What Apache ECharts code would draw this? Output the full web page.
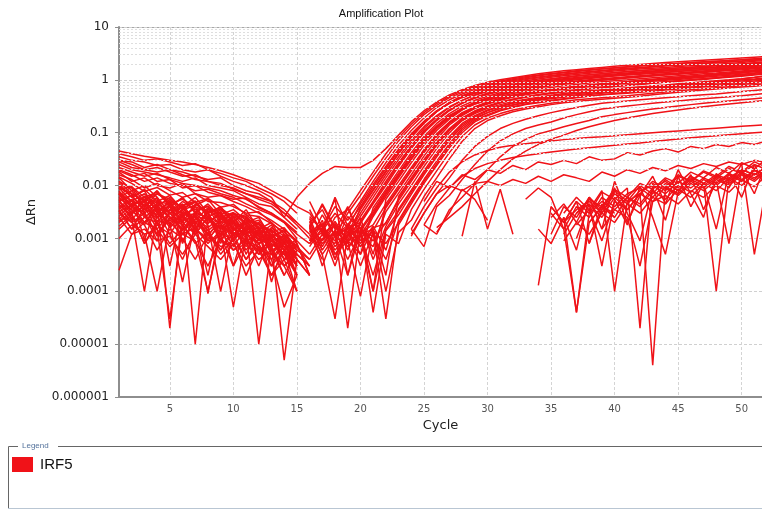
<!DOCTYPE html>
<html>
<head>
<meta charset="utf-8">
<title>Amplification Plot</title>
<script src="https://cdn.jsdelivr.net/npm/echarts@6/dist/echarts.min.js"></script>
<style>
  html, body { margin: 0; padding: 0; background: #fff; }
  #chart { width: 762px; height: 509px; }
</style>
</head>
<body>
<div id="chart"></div>
<script>
// axis ticks
const xTicks = [5, 10, 15, 20, 25, 30, 35, 40, 45, 50]
const yTicks = [0.000001, 0.00001, 0.0001, 0.001, 0.01, 0.1, 1, 10]
const yTickLabels = ['0.000001', '0.00001', '0.0001', '0.001', '0.01', '0.1', '1', '10']

// baseline noise, cycles 1..16 (null = negative, not drawn on log axis)
const baselineStart = 1
const baselineRows = [
    [.045,.04,.036,.033,.03,.028,.025,.022,.019,.016,.013,.011,.008,.006,.004,.003],
    [.04,.035,.03,.032,.028,.024,.026,.02,.017,.014,.012,.009,.007,.005,.003,null],
    [.035,.03,.028,.024,.025,.02,.018,.02,.015,.012,.01,.008,.006,.0025,.006,.011],
    [.03,.028,.022,.025,.02,.018,.015,.013,.014,.01,.008,.007,.005,.0035,.002,null],
    [.028,.022,.02,.018,.02,.016,.013,.012,.01,.009,.007,.006,.005,.003,.0018,.001],
    [.025,.02,.018,.016,.014,.012,.014,.01,.009,.008,.006,.0045,.004,.0025,.0015,null],
    [.022,.018,.015,.017,.013,.011,.01,.009,.008,.0065,.0055,.004,.003,.002,.0012,.0008],
    [.02,.016,.012,.014,.011,.01,.008,.0085,.007,.006,.0045,.0035,.0028,.002,.001,null],
    [.018,.012,.014,.01,.009,.011,.007,.006,.0065,.005,.004,.003,.0022,.0015,.0009,null],
    [.016,.013,.009,.011,.008,.006,.007,.005,.0048,.004,.003,.0032,.002,.0012,.0006,null],
    [.014,.008,.01,.006,.0003,.004,.006,.003,.004,.002,.0035,.0015,.002,.0008,null,null],
    [.012,.009,.004,.007,.005,.002,.0045,.003,.0008,.003,.002,.0025,.001,.0015,.0004,null],
    [.01,.006,.008,.003,.005,.004,.0015,.0035,.003,.001,.0025,.0012,.0018,.0006,.001,null],
    [.009,.007,.0009,.005,.003,.004,.002,.0002,.0028,.002,.0014,.002,.0007,.0012,.0003,null],
    [.008,.004,.006,.0035,.004,.0012,.003,.0025,.0015,.0022,.0005,.0015,.001,.0004,.0008,.0002],
    [.0075,.005,.003,.0045,.00002,.003,.0025,.0012,.002,.0003,.0018,.001,.0012,.0006,null,null],
    [.007,.0045,.005,.002,.004,.003,.00001,.0025,.0015,.002,.001,.0015,.0005,.0009,.0002,null],
    [.006,.0035,.002,.004,.0025,.0015,.003,.0018,.0001,.0015,.0012,.0008,.0011,.0003,.0006,null],
    [.005,.003,.004,.0015,.003,.002,.0012,.0025,.0015,.00005,.0012,.0008,.001,.0005,null,.0004],
    [.0045,.0025,.0001,.003,.002,.0025,.0015,.001,.0018,.0012,.0004,.001,.0007,.0009,.0003,null],
    [.004,.002,.003,.0012,.0025,.0018,.0009,.0001,.0012,.001,.0015,.00001,.0008,.0005,.0007,null],
    [.0035,.0015,.0025,.002,.0008,.0015,.002,.0012,.0006,.0013,.0009,.0007,.0002,.0006,.0003,null],
    [.003,.002,.0012,.0001,.002,.0012,.0016,.0008,.0014,.0006,.001,.0005,.0008,.000005,.0004,.0002],
    [.0025,.0012,.002,.0015,.00003,.0018,.0008,.0013,.0005,.001,.0004,.0008,.0003,.0006,.0002,null],
    [.002,.003,.0008,.0018,.0012,.0004,.0015,.0009,.0011,.0003,.0009,.0006,.0005,.0003,.0001,null],
    [.0015,.0025,.0018,.0006,.0015,.001,.0004,.0012,.0007,.0009,.0002,.0007,.0004,.00005,.0002,null],
    [.001,.0018,.0012,.0015,.0007,.0012,.0009,.0003,.001,.0006,.0008,.0004,.0006,.0002,null,null],
    [.00025,.0012,.0015,.0009,.0011,.0005,.0012,.0007,.0004,.0008,.0003,.0006,.0002,.0004,.0001,null],
    [.006,.008,.004,.006,.003,.005,.0035,.004,.002,.003,.0025,.0015,.0012,.001,.0005,.0003],
    [.009,.005,.007,.004,.006,.0035,.005,.0025,.0035,.002,.0015,.002,.0009,.0007,.0004,null],
    [.012,.007,.005,.008,.004,.006,.003,.0045,.0025,.003,.0018,.0012,.0015,.0008,.0005,null],
    [.005,.0065,.0035,.005,.0045,.0025,.004,.002,.003,.0015,.002,.0011,.0009,.0011,.0004,.0002],
    [.007,.003,.0055,.0025,.0035,.0045,.002,.003,.0012,.0025,.0013,.0016,.0006,.0008,null,null],
    [.004,.0055,.0025,.0038,.0018,.003,.0028,.0014,.0022,.0009,.0017,.0009,.0011,.0004,.0005,null],
    [.011,.006,.0085,.005,.0065,.0035,.0042,.0055,.0028,.0035,.0022,.0019,.0014,.001,.0007,.0004],
    [.0085,.0095,.006,.0075,.0045,.0055,.004,.0032,.0038,.0025,.0028,.0018,.0013,.0016,.0008,null],
    [.0032,.0042,.0028,.0009,.0035,.0022,.0026,.0011,.0024,.0016,.0007,.0014,.00015,.0009,.0004,null],
    [.0055,.0022,.0045,.0032,.0012,.0028,.0015,.0032,.0009,.002,.0011,.0003,.0012,.0007,.0002,null],
    [.03,.025,.02,.022,.018,.015,.016,.012,.011,.0085,.007,.0055,.0045,.003,.002,.0012],
    [.019,.015,.017,.012,.013,.009,.01,.0075,.0065,.0055,.0058,.0038,.003,.0021,.0013,null],
    [.0065,.0095,.005,.007,.0055,.0038,.0048,.003,.0036,.0022,.0026,.0016,.0014,.0009,.0006,null],
    [.0042,.0028,.0055,.0025,.0042,.0018,.0032,.0024,.0011,.0022,.0014,.0005,.0011,.0008,.0003,null],
    [.0026,.0045,.002,.0035,.0016,.0028,.0012,.0026,.0019,.0007,.0016,.0011,.0004,.0009,null,null],
    [.0048,.0035,.0018,.0042,.0026,.0009,.0024,.0016,.0025,.0013,.0008,.0015,.0007,.0002,.0006,null],
    [.0023,.0038,.0032,.0011,.0024,.0034,.0018,.00009,.0017,.0012,.0019,.0006,.0009,.0005,.0002,null],
    [.0058,.0042,.0062,.0033,.0048,.0028,.0036,.0022,.0027,.0018,.0012,.0017,.0005,.0012,.0007,.0003],
    [.0017,.0028,.0008,.0022,.0019,.00015,.0021,.0014,.0006,.0016,.0009,.0013,.0006,.0003,.0005,null],
    [.0095,.0068,.0052,.0078,.0041,.0058,.0032,.0041,.0025,.0031,.0019,.0022,.0011,.0014,.0006,.0004],
    [.0036,.0052,.0041,.0028,.0055,.0031,.0022,.0038,.0016,.0026,.0012,.0019,.0008,.0005,.0009,null],
    [.0072,.0038,.0063,.0047,.0029,.0042,.0051,.0027,.0031,.0014,.0023,.0009,.0016,.0011,.0005,.0003],
    [.0021,.0033,.0049,.0018,.0031,.0014,.0027,.0009,.0021,.0017,.0006,.0013,.0009,.0006,.0001,null],
    [.0145,.011,.0078,.0092,.0066,.0074,.0048,.0057,.0039,.0044,.0028,.0026,.0019,.0013,.0009,.0005],
    [.0033,.0015,.0038,.0024,.0046,.0008,.0029,.0019,.0033,.0011,.0021,.0013,.0003,.001,.0007,null],
    [.0052,.0066,.0032,.0058,.0021,.0044,.0013,.0036,.0023,.0028,.0015,.0008,.0014,.0004,.0008,.0002]
]

// amplified wells, cycles 16..52
const risingStart = 16
const risingRows = [
    [.011,.017,.023,.022,.022,.03,.05,.09,.16,.26,.38,.52,.65,.78,.9,1.0,1.1,1.2,1.3,1.4,1.48,1.56,1.64,1.72,1.8,1.88,1.96,2.04,2.12,2.2,2.28,2.36,2.44,2.52,2.6,2.68,2.75],
    [.002,.0035,.0011,.003,.0065,.015,.033,.07,.13,.22,.33,.46,.58,.7,.81,.91,1.0,1.1,1.19,1.28,1.36,1.44,1.52,1.6,1.68,1.76,1.83,1.9,1.97,2.04,2.11,2.18,2.25,2.32,2.4,2.5,2.6],
    [null,.0015,.004,.0022,.005,.012,.027,.058,.11,.19,.3,.42,.54,.66,.77,.87,.96,1.05,1.13,1.21,1.29,1.37,1.44,1.51,1.58,1.65,1.72,1.79,1.86,1.93,2.0,2.07,2.14,2.21,2.28,2.38,2.5],
    [.0009,.0022,.0004,.0018,.004,.0095,.021,.046,.09,.16,.26,.37,.49,.6,.7,.79,.88,.96,1.04,1.12,1.19,1.26,1.33,1.4,1.47,1.54,1.6,1.66,1.72,1.78,1.84,1.9,1.97,2.04,2.12,2.24,2.35],
    [.0015,.0045,.0016,.0013,.0035,.008,.018,.04,.082,.15,.25,.37,.5,.62,.73,.83,.92,1.01,1.09,1.17,1.25,1.33,1.4,1.47,1.54,1.61,1.68,1.75,1.82,1.89,1.96,2.03,2.1,2.18,2.26,2.35,2.45],
    [.0005,.0012,null,.0011,.003,.007,.016,.035,.072,.13,.21,.31,.41,.51,.6,.68,.76,.84,.91,.98,1.05,1.11,1.17,1.23,1.29,1.35,1.41,1.47,1.53,1.59,1.65,1.71,1.77,1.84,1.92,2.01,2.1],
    [.0018,.0003,.0014,.0008,.0026,.006,.014,.031,.065,.12,.2,.3,.41,.52,.62,.71,.8,.88,.96,1.03,1.1,1.17,1.24,1.31,1.38,1.44,1.5,1.56,1.62,1.68,1.74,1.8,1.87,1.94,2.02,2.11,2.2],
    [.0007,.0016,.0055,.0002,.0022,.005,.012,.027,.057,.11,.18,.27,.36,.45,.53,.61,.68,.75,.82,.88,.94,1.0,1.06,1.12,1.18,1.23,1.28,1.33,1.38,1.44,1.5,1.56,1.62,1.68,1.75,1.82,1.9],
    [null,.0009,.0019,.0006,.0019,.0045,.01,.023,.05,.1,.17,.26,.36,.46,.55,.64,.72,.8,.87,.94,1.0,1.06,1.12,1.18,1.24,1.3,1.36,1.42,1.48,1.54,1.6,1.66,1.72,1.78,1.84,1.92,2.0],
    [.0011,null,.0012,.0015,.0005,.0038,.0085,.019,.042,.085,.15,.23,.32,.41,.49,.57,.64,.71,.77,.83,.89,.95,1.0,1.05,1.1,1.15,1.2,1.25,1.3,1.35,1.41,1.47,1.53,1.59,1.65,1.72,1.8],
    [.0014,.0005,.00003,.0012,.0014,.003,.0072,.016,.036,.075,.13,.21,.29,.37,.45,.52,.59,.65,.71,.77,.83,.88,.93,.98,1.03,1.08,1.13,1.18,1.23,1.28,1.33,1.38,1.44,1.5,1.56,1.63,1.7],
    [.003,.0013,.006,.0017,.0009,.0026,.0062,.014,.031,.066,.12,.19,.27,.35,.42,.49,.55,.61,.67,.72,.77,.82,.87,.92,.96,1.0,1.05,1.1,1.15,1.2,1.25,1.3,1.35,1.41,1.47,1.53,1.6],
    [.0008,.0019,.0005,.0011,.0016,.0001,.0055,.012,.027,.058,.11,.18,.27,.36,.44,.52,.59,.66,.72,.78,.84,.9,.95,1.0,1.05,1.1,1.15,1.2,1.25,1.3,1.36,1.42,1.48,1.54,1.6,1.67,1.75],
    [.0016,.0042,.0015,.0004,.0013,.0018,.0045,.01,.022,.048,.095,.16,.24,.31,.38,.45,.51,.56,.61,.66,.71,.76,.8,.84,.88,.92,.96,1.0,1.05,1.1,1.15,1.2,1.25,1.3,1.36,1.43,1.5],
    [null,.0011,.0021,.0009,.00008,.0014,.0038,.0085,.019,.042,.085,.15,.22,.29,.35,.41,.47,.52,.57,.62,.66,.7,.74,.78,.82,.86,.9,.94,.98,1.02,1.07,1.12,1.17,1.22,1.27,1.33,1.4],
    [.0006,null,.0009,.0038,.0011,.0007,.0032,.0072,.016,.036,.075,.14,.21,.29,.36,.43,.49,.55,.6,.65,.7,.75,.8,.84,.88,.93,.98,1.03,1.08,1.13,1.18,1.23,1.29,1.35,1.41,1.48,1.55],
    [.0012,.0004,null,.0013,.0007,.0015,.0002,.0062,.014,.031,.066,.12,.19,.26,.32,.38,.43,.48,.52,.56,.6,.64,.68,.72,.75,.78,.82,.86,.9,.94,.98,1.02,1.07,1.12,1.17,1.23,1.3],
    [.0019,.0008,.0014,.00002,.0015,.0009,.002,.0052,.012,.027,.058,.11,.17,.23,.29,.34,.39,.43,.47,.51,.55,.59,.62,.65,.68,.71,.74,.77,.8,.84,.88,.92,.96,1.0,1.05,1.12,1.2],
    [.005,.0016,.0006,.0012,.0019,.0004,.0017,.0045,.01,.023,.05,.1,.17,.24,.31,.37,.43,.48,.53,.57,.61,.65,.69,.73,.77,.8,.84,.88,.92,.96,1.0,1.05,1.1,1.15,1.21,1.28,1.35],
    [.0009,.0013,.0003,.0016,.0008,.0017,.0006,.0036,.0082,.019,.042,.085,.15,.21,.27,.32,.37,.41,.45,.49,.53,.56,.59,.62,.65,.68,.71,.74,.77,.8,.83,.87,.91,.95,.99,1.04,1.1],
    [.0013,null,.0017,.0007,.0012,.0001,.0014,.0028,.0068,.016,.035,.072,.13,.19,.24,.29,.33,.37,.41,.44,.47,.5,.53,.56,.59,.62,.65,.68,.71,.74,.77,.8,.83,.86,.9,.95,1.0],
    [.0004,.001,.0012,.0002,.0014,.0011,.0004,.0022,.0055,.013,.029,.062,.12,.18,.24,.29,.34,.38,.42,.46,.49,.52,.55,.58,.61,.64,.67,.7,.73,.76,.79,.83,.87,.91,.95,1.0,1.05],
    [.0017,.0006,null,.0014,.0003,.0013,.00003,.0018,.0045,.011,.024,.052,.1,.16,.21,.26,.3,.34,.37,.4,.43,.46,.49,.52,.55,.58,.61,.64,.67,.7,.73,.76,.79,.82,.86,.9,.95],
    [null,.0014,.0009,.0011,.0016,.00004,.0012,.0008,.0035,.0085,.019,.042,.085,.14,.19,.23,.27,.3,.33,.36,.39,.42,.44,.46,.48,.5,.53,.56,.59,.62,.65,.68,.71,.74,.77,.81,.85],
    [.0011,.0018,.0005,.0009,.0012,.0015,.0001,.0013,.0022,.0062,.014,.032,.068,.12,.17,.21,.25,.28,.31,.34,.37,.39,.41,.43,.45,.47,.49,.52,.55,.58,.61,.64,.67,.7,.73,.76,.8],
    [.0016,.0009,.0025,.0035,.008,.018,.04,.08,.145,.24,.355,.49,.62,.74,.85,.95,1.05,1.14,1.23,1.32,1.4,1.48,1.56,1.63,1.7,1.77,1.84,1.91,1.98,2.05,2.12,2.19,2.26,2.33,2.4,2.47,2.55],
    [.0024,.0007,.0019,.0009,.0038,.0085,.019,.042,.085,.155,.25,.36,.47,.57,.66,.75,.83,.91,.98,1.05,1.12,1.19,1.25,1.31,1.37,1.43,1.49,1.55,1.61,1.67,1.73,1.79,1.85,1.91,1.98,2.08,2.2],
    [.0009,.0028,.0011,.0016,.002,.0048,.011,.025,.054,.105,.175,.27,.37,.47,.56,.65,.73,.8,.87,.93,.99,1.05,1.11,1.17,1.23,1.29,1.35,1.41,1.47,1.53,1.59,1.65,1.71,1.78,1.86,1.95,2.05],
    [.0021,.0006,.0014,.004,.0011,.0028,.0068,.015,.033,.07,.125,.2,.29,.38,.46,.54,.61,.68,.74,.8,.86,.92,.97,1.02,1.07,1.12,1.17,1.22,1.28,1.34,1.4,1.46,1.53,1.6,1.68,1.78,1.9],
    [.0013,.0019,.0007,.0013,.0024,.0005,.0041,.009,.02,.045,.09,.155,.23,.3,.37,.43,.49,.54,.59,.64,.69,.74,.78,.82,.86,.9,.94,.98,1.03,1.08,1.14,1.2,1.27,1.34,1.42,1.53,1.65],
    [null,.0012,.0018,.0009,.0005,.0016,.0019,.0057,.013,.029,.062,.115,.18,.25,.31,.37,.42,.47,.51,.55,.59,.63,.67,.71,.75,.79,.83,.87,.91,.95,1.0,1.05,1.1,1.17,1.25,1.35,1.45],
    [.0008,.0015,.0004,.0019,.0012,.0002,.0015,.0033,.0075,.0175,.038,.078,.14,.2,.26,.31,.36,.4,.44,.48,.52,.55,.58,.61,.64,.67,.7,.73,.76,.8,.84,.88,.93,.98,1.04,1.11,1.2],
    [.0015,.0005,.0011,.0018,.0007,.0014,.0008,.002,.005,.012,.026,.057,.11,.17,.22,.27,.31,.35,.38,.41,.44,.47,.5,.52,.54,.56,.58,.61,.64,.67,.7,.73,.76,.79,.82,.86,.9],
    [.0035,.0012,.0008,.0026,.0015,.0033,.0078,.017,.038,.078,.135,.21,.28,.35,.41,.47,.52,.57,.62,.66,.7,.74,.78,.82,.86,.9,.94,.98,1.02,1.06,1.11,1.16,1.22,1.28,1.35,1.45,1.55],
    [.0026,.0014,.003,.0016,.0045,.0105,.023,.049,.095,.165,.26,.36,.46,.55,.63,.7,.77,.83,.89,.95,1.0,1.05,1.1,1.15,1.2,1.25,1.3,1.35,1.4,1.45,1.51,1.57,1.63,1.7,1.77,1.85,1.95]
]

// weak / late amplification, cycles 24..52
const lateRiseStart = 24
const lateRiseRows = [
    [.0011,.003,.007,.014,.03,.055,.085,.12,.15,.18,.21,.24,.27,.3,.33,.36,.38,.4,.42,.44,.46,.48,.5,.52,.54,.57,.6,.63,.66],
    [.0015,.0007,.004,.0065,.013,.025,.045,.07,.095,.12,.14,.16,.19,.22,.25,.28,.3,.32,.34,.36,.38,.4,.42,.44,.46,.48,.5,.53,.56],
    [null,.0018,.0012,.0035,.006,.011,.02,.035,.055,.075,.095,.11,.13,.15,.17,.2,.22,.24,.26,.28,.3,.32,.34,.36,.38,.4,.42,.44,.46],
    [.0009,null,.0016,.0025,.004,.007,.012,.02,.032,.045,.06,.075,.09,.11,.13,.15,.17,.19,.21,.23,.25,.27,.29,.31,.33,.35,.37,.39,.41],
    [.0015,.004,.009,.018,.028,.038,.046,.053,.058,.062,.066,.07,.074,.078,.081,.084,.088,.092,.096,.1,.104,.108,.112,.117,.122,.127,.132,.137,.142],
    [null,.0018,.0045,.009,.015,.021,.026,.03,.034,.037,.04,.043,.046,.049,.052,.055,.058,.061,.064,.068,.072,.076,.08,.084,.088,.092,.096,.1,.104],
    [null,.005,.012,.009,.016,.013,.02,.017,.024,.02,.028,.025,.03,.026,.035,.03,.032,.042,.038,.045,.05,.043,.055,.05,.06,.055,.065,.06,.07],
    [.0012,.003,.007,.01,.008,.011,.012,.01,.013,.011,.015,.012,.016,.014,.012,.018,.015,.02,.017,.022,.019,.024,.021,.026,.023,.028,.025,.03,.027]
]

// isolated noisy fragments, cycles 25..40
const fragmentStart = 25
const fragmentRows = [
    [null,.0013,.003,.0085,.0055,.0022,null,null,null,null,null,null,null,null,null,null],
    [null,null,null,.0011,.012,.0015,.0085,.0012,null,null,null,null,null,null,null,null],
    [null,null,null,null,null,null,null,null,.0055,.009,.006,.0015,.00004,.002,.004,.003],
    [null,null,null,null,null,null,null,null,null,null,.0012,.004,.0025,.006,.003,.0075],
    [null,null,null,null,null,null,null,null,null,.00013,.004,.002,.005,.0008,.0045,.0025]
]

// non-amplified wells, late noise, cycles 33..52
const lateNoiseStart = 33
const lateNoiseRows = [
    [null,null,.003,.0015,.004,.0025,.006,.004,.007,.009,.006,.011,.008,.013,.01,.015,.012,.018,.014,.02],
    [null,null,null,.002,.0035,.005,.003,.007,.0045,.008,.01,.007,.012,.009,.014,.011,.017,.013,.019,.016],
    [null,.0015,.0008,.0025,.00004,.003,.005,.0035,.006,.0045,.009,.012,.008,.014,.011,.016,.013,.02,.016,.023],
    [null,null,.004,.002,.005,.003,.0075,.0055,.009,.00002,.011,.008,.015,.012,.018,.014,.021,.017,.025,.02],
    [null,null,null,.0012,.003,.0045,.0025,.006,.0035,.007,.000004,.009,.0065,.011,.008,.013,.01,.016,.012,.019],
    [null,null,.0025,.0045,.002,.006,.0035,.008,.005,.01,.007,.013,.009,.015,.011,.0001,.014,.02,.016,.024],
    [null,null,null,null,.0018,.0035,.0009,.005,.0035,.007,.005,.0095,.007,.012,.009,.014,.011,.017,.013,.021],
    [null,null,null,.003,.006,.0035,.008,.0001,.005,.007,.012,.009,.016,.012,.019,.015,.023,.018,.028,.022],
    [null,null,null,null,null,.002,.004,.0025,.006,.004,.008,.0055,.01,.0075,.013,.01,.016,.012,.02,.015],
    [null,null,null,.0009,.002,.0012,.003,.002,.0045,.003,.006,.0045,.0085,.006,.011,.008,.014,.01,.017,.013],
    [null,null,null,null,.003,.0055,.004,.0085,.006,.011,.0085,.014,.011,.018,.014,.022,.017,.027,.021,.032],
    [null,null,null,null,null,null,.0015,.0035,.0025,.0003,.005,.0065,.0045,.008,.006,.01,.0075,.013,.0095,.016],
    [null,null,null,.0025,.0006,.006,.0015,.012,.003,.0009,.009,.0022,.015,.004,.011,.0015,.018,.006,.025,.008],
    [null,null,null,null,.001,.0045,.0003,.0055,.0018,.0095,.0025,.0005,.0075,.016,.0035,.012,.0008,.02,.007,.03],
    [null,null,null,null,null,.0008,.0035,.009,.002,.0065,.015,.0045,.02,.007,.0025,.017,.009,.026,.0005,.012]
]

const RED = '#f01218'
const LABEL_FONT = 'DejaVu Sans'

const chart = echarts.init(document.getElementById('chart'))

const wellSeries = (rows, start) => rows.map(row => ({
    name: 'IRF5',
    type: 'line',
    data: row.map((v, i) => [start + i, v]),
    symbol: 'none',
    showSymbol: false,
    connectNulls: false,
    silent: true,
    z: 3,
    lineStyle: { width: 1.5, color: RED },
    itemStyle: { color: RED }
}))

// log-spaced minor grid lines 2..9 in each decade
const minorLines = []
yTicks.slice(0, -1).forEach(d => {
    for (let k = 2; k <= 9; k++) minorLines.push({ yAxis: d * k })
})

const series = [
    {
        name: 'grid',
        type: 'line',
        data: [],
        z: 1,
        markLine: {
            silent: true,
            symbol: 'none',
            animation: false,
            label: { show: false },
            lineStyle: { color: '#dedede', type: [2, 2], width: 1 },
            data: minorLines
        }
    }
].concat(
    wellSeries(baselineRows, baselineStart),
    wellSeries(risingRows, risingStart),
    wellSeries(lateRiseRows, lateRiseStart),
    wellSeries(fragmentRows, fragmentStart),
    wellSeries(lateNoiseRows, lateNoiseStart)
)

chart.setOption({
    animation: false,
    backgroundColor: '#fff',
    title: {
        text: 'Amplification Plot',
        left: 'center',
        top: 8,
        padding: 0,
        textStyle: { fontSize: 11, fontWeight: 'normal', color: '#111', fontFamily: 'Liberation Sans' }
    },
    legend: {
        data: ['IRF5'],
        left: 12,
        top: 457,
        padding: 0,
        icon: 'rect',
        itemWidth: 21,
        itemHeight: 15,
        selectedMode: false,
        textStyle: { fontSize: 15, color: '#111', fontFamily: 'Liberation Sans', padding: [0, 0, 0, 2] }
    },
    grid: { left: 119, right: 0, top: 27, bottom: 112 },
    xAxis: {
        type: 'value',
        min: 1,
        max: 51.6,
        name: 'Cycle',
        nameLocation: 'middle',
        nameGap: 19,
        nameTextStyle: { fontSize: 13, color: '#222', fontFamily: LABEL_FONT },
        axisLine: { lineStyle: { color: '#8e8e8e', width: 2 } },
        axisTick: { show: false, customValues: xTicks },
        axisLabel: { customValues: xTicks, fontSize: 10, color: '#555', margin: 7, fontFamily: LABEL_FONT },
        splitLine: { show: true, lineStyle: { color: '#d4d4d4', type: [3, 2], width: 1 } }
    },
    yAxis: {
        type: 'log',
        logBase: 10,
        min: 0.000001,
        max: 10,
        name: 'ΔRn',
        nameLocation: 'middle',
        nameGap: 81,
        nameTextStyle: { fontSize: 13, color: '#222', fontFamily: LABEL_FONT },
        axisLine: { show: true, lineStyle: { color: '#8e8e8e', width: 2 } },
        axisTick: { show: true, length: 4, lineStyle: { color: '#8e8e8e' } },
        axisLabel: {
            fontSize: 12,
            color: '#222',
            margin: 10,
            fontFamily: LABEL_FONT,
            formatter: v => yTickLabels[Math.round(Math.log10(v)) + 6]
        },
        splitLine: { show: true, lineStyle: { color: '#d0d0d0', type: [3, 2], width: 1 } }
    },
    graphic: [
        { type: 'line', shape: { x1: 119, y1: 27.5, x2: 762, y2: 27.5 }, style: { stroke: '#a6a6a6', lineWidth: 1 } },
        { type: 'polyline', shape: { points: [[18, 446.5], [8.5, 446.5], [8.5, 509]] }, style: { stroke: '#666', lineWidth: 1, fill: null } },
        { type: 'line', shape: { x1: 58, y1: 446.5, x2: 762, y2: 446.5 }, style: { stroke: '#666', lineWidth: 1 } },
        { type: 'line', shape: { x1: 8, y1: 508.5, x2: 762, y2: 508.5 }, style: { stroke: '#b9c6d3', lineWidth: 1 } },
        { type: 'text', left: 22, top: 442, style: { text: 'Legend', fontSize: 8, fill: '#55739c', fontFamily: 'Liberation Sans' } }
    ],
    series
})
</script>
</body>
</html>
